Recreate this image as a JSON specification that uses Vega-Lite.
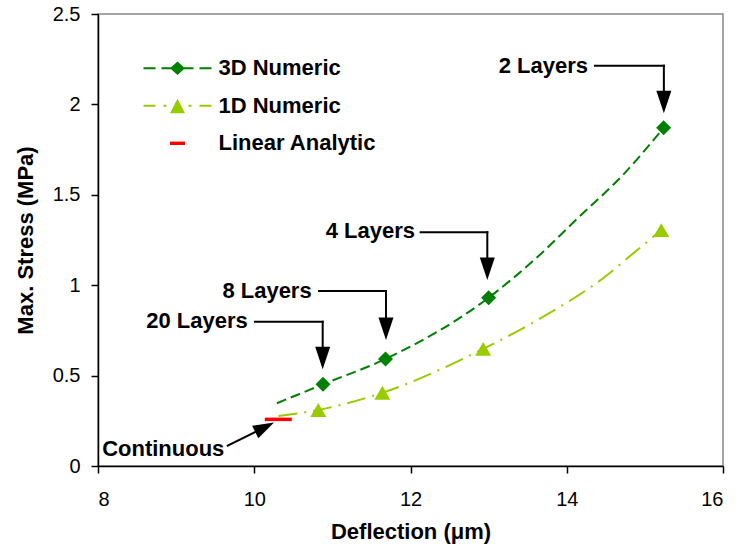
{
  "$schema": "https://vega.github.io/schema/vega-lite/v6.json",
  "width": 625,
  "height": 452,
  "autosize": {"type": "none"},
  "padding": {"left": 98, "top": 14, "right": 21, "bottom": 79},
  "background": "white",
  "config": {
    "view": {"stroke": "#888888", "strokeWidth": 1.5},
    "axis": {
      "domainColor": "black", "domainWidth": 1.5,
      "tickColor": "black", "tickWidth": 1.5, "tickSize": 7,
      "labelFont": "Liberation Sans", "labelFontSize": 20, "labelColor": "black",
      "titleFont": "Liberation Sans", "titleFontSize": 22, "titleFontWeight": "bold", "titleColor": "black",
      "grid": false
    },
    "legend": {
      "orient": "none", "legendX": 45.5, "legendY": 43.3, "padding": 0,
      "symbolSize": 484, "symbolStrokeWidth": 0, "labelOffset": 53, "rowPadding": 15.5,
      "labelFont": "Liberation Sans", "labelFontSize": 22, "labelFontWeight": "bold",
      "labelColor": "black", "labelLimit": 300
    }
  },
  "datasets": {
    "curves": [
      {"series": "3D Numeric", "x": 10.29, "y": 0.347},
      {"series": "3D Numeric", "x": 10.88, "y": 0.452},
      {"series": "3D Numeric", "x": 11.68, "y": 0.592},
      {"series": "3D Numeric", "x": 13.0, "y": 0.931},
      {"series": "3D Numeric", "x": 13.66, "y": 1.17},
      {"series": "3D Numeric", "x": 14.15, "y": 1.375},
      {"series": "3D Numeric", "x": 14.72, "y": 1.61},
      {"series": "3D Numeric", "x": 15.24, "y": 1.871},
      {"series": "1D Numeric", "x": 10.31, "y": 0.277},
      {"series": "1D Numeric", "x": 10.82, "y": 0.31},
      {"series": "1D Numeric", "x": 11.64, "y": 0.405},
      {"series": "1D Numeric", "x": 12.93, "y": 0.648},
      {"series": "1D Numeric", "x": 13.7, "y": 0.826},
      {"series": "1D Numeric", "x": 14.49, "y": 1.047},
      {"series": "1D Numeric", "x": 14.85, "y": 1.176},
      {"series": "1D Numeric", "x": 15.21, "y": 1.305}
    ],
    "markers": [
      {"series": "3D Numeric", "x": 10.88, "y": 0.452},
      {"series": "3D Numeric", "x": 11.68, "y": 0.592},
      {"series": "3D Numeric", "x": 13.0, "y": 0.931},
      {"series": "3D Numeric", "x": 15.24, "y": 1.871},
      {"series": "1D Numeric", "x": 10.82, "y": 0.31},
      {"series": "1D Numeric", "x": 11.64, "y": 0.405},
      {"series": "1D Numeric", "x": 12.93, "y": 0.648},
      {"series": "1D Numeric", "x": 15.21, "y": 1.305}
    ],
    "analytic": [
      {"series": "Linear Analytic", "x": 10.308, "y": 0.258}
    ],
    "segments": [
      {"x": 14.362, "y": 2.214, "x2": 15.243, "y2": 2.214},
      {"x": 15.243, "y": 2.214, "x2": 15.243, "y2": 1.98},
      {"x": 12.13, "y": 1.293, "x2": 12.983, "y2": 1.293},
      {"x": 12.983, "y": 1.293, "x2": 12.983, "y2": 1.06},
      {"x": 10.829, "y": 0.968, "x2": 11.686, "y2": 0.968},
      {"x": 11.686, "y": 0.968, "x2": 11.686, "y2": 0.73},
      {"x": 10.01, "y": 0.798, "x2": 10.876, "y2": 0.798},
      {"x": 10.876, "y": 0.798, "x2": 10.876, "y2": 0.56},
      {"x": 9.66, "y": 0.112, "x2": 10.164, "y2": 0.221}
    ],
    "heads": [
      {"x": 15.243, "y": 1.951},
      {"x": 12.983, "y": 1.029},
      {"x": 11.686, "y": 0.697},
      {"x": 10.876, "y": 0.535}
    ],
    "contHead": [
      {"x": 10.253, "y": 0.24}
    ],
    "labels": [
      {"label": "2 Layers", "x": 14.272, "y": 2.21},
      {"label": "4 Layers", "x": 12.058, "y": 1.3},
      {"label": "8 Layers", "x": 10.735, "y": 0.97},
      {"label": "20 Layers", "x": 9.916, "y": 0.804},
      {"label": "Continuous", "x": 9.617, "y": 0.094}
    ]
  },
  "encoding": {
    "x": {
      "field": "x", "type": "quantitative",
      "scale": {"domain": [8, 16], "nice": false, "zero": false},
      "axis": {"title": "Deflection (μm)", "values": [8, 10, 12, 14, 16], "labelPadding": 16, "titleBaseline": "alphabetic", "titleY": 72}
    },
    "y": {
      "field": "y", "type": "quantitative",
      "scale": {"domain": [0, 2.5], "nice": false},
      "axis": {"title": "Max. Stress (MPa)", "values": [0, 0.5, 1, 1.5, 2, 2.5], "format": "~g", "labelPadding": 11, "titleBaseline": "alphabetic", "titleX": -66, "titleY": 226}
    }
  },
  "layer": [
    {
      "data": {"name": "curves"},
      "transform": [{"filter": "datum.series === '3D Numeric'"}],
      "mark": {"type": "line", "strokeDash": [10, 5], "strokeWidth": 2, "interpolate": "monotone"},
      "encoding": {
        "color": {
          "field": "series", "type": "nominal",
          "scale": {"domain": ["3D Numeric", "1D Numeric", "Linear Analytic"], "range": ["#008000", "#99cc00", "#ff0000"]},
          "legend": {
            "title": null,
            "encode": {
              "symbols": {
                "update": {
                  "shape": {"signal": "datum.value === '3D Numeric' ? 'M-1,-0.091L0.091,-0.091L0.091,0.091L-1,0.091Z M0.636,-0.091L1.591,-0.091L1.591,0.091L0.636,0.091Z M2.591,-0.091L3.545,-0.091L3.545,0.091L2.591,0.091Z M4.091,-0.091L5.182,-0.091L5.182,0.091L4.091,0.091Z M1.409,0L2.091,-0.618L2.773,0L2.091,0.618Z' : datum.value === '1D Numeric' ? 'M-1,-0.091L0.091,-0.091L0.091,0.091L-1,0.091Z M0.818,-0.091L1.091,-0.091L1.091,0.091L0.818,0.091Z M3.091,-0.091L3.364,-0.091L3.364,0.091L3.091,0.091Z M4.091,-0.091L5.182,-0.091L5.182,0.091L4.091,0.091Z M2.091,-0.636L2.773,0.682L1.409,0.682Z' : 'M1.409,-0.155L2.773,-0.155L2.773,0.155L1.409,0.155Z'"},
                  "fill": {"signal": "datum.value === '3D Numeric' ? '#008000' : datum.value === '1D Numeric' ? '#99cc00' : '#ff0000'"},
                  "stroke": {"value": "transparent"},
                  "size": {"value": 484},
                  "opacity": {"value": 1}
                }
              }
            }
          }
        }
      }
    },
    {
      "data": {"name": "curves"},
      "transform": [{"filter": "datum.series === '1D Numeric'"}],
      "mark": {"type": "line", "strokeDash": [19, 7, 2, 7], "strokeWidth": 2, "interpolate": "monotone"},
      "encoding": {"color": {"field": "series", "type": "nominal"}}
    },
    {
      "data": {"name": "analytic"},
      "mark": {"type": "tick", "orient": "horizontal", "size": 27, "thickness": 3.5, "opacity": 1},
      "encoding": {"color": {"field": "series", "type": "nominal"}}
    },
    {
      "data": {"name": "markers"},
      "transform": [{"filter": "datum.series === '3D Numeric'"}],
      "mark": {"type": "point", "shape": "diamond", "filled": true, "size": 225, "opacity": 1},
      "encoding": {"color": {"field": "series", "type": "nominal"}}
    },
    {
      "data": {"name": "markers"},
      "transform": [{"filter": "datum.series === '1D Numeric'"}],
      "mark": {"type": "point", "shape": "triangle-up", "filled": true, "size": 256, "opacity": 1},
      "encoding": {"color": {"field": "series", "type": "nominal"}}
    },
    {
      "data": {"name": "segments"},
      "mark": {"type": "rule", "color": "black", "strokeWidth": 2, "strokeCap": "square"},
      "encoding": {
        "x2": {"field": "x2"},
        "y2": {"field": "y2"}
      }
    },
    {
      "data": {"name": "heads"},
      "mark": {"type": "point", "shape": "M0,0L-1,-3L1,-3Z", "filled": true, "color": "black", "size": 225, "opacity": 1, "strokeWidth": 0}
    },
    {
      "data": {"name": "contHead"},
      "mark": {"type": "point", "shape": "M0,0L-1,-3L1,-3Z", "filled": true, "color": "black", "size": 196, "opacity": 1, "strokeWidth": 0, "angle": 243.6}
    },
    {
      "data": {"name": "labels"},
      "mark": {"type": "text", "align": "right", "baseline": "middle", "font": "Liberation Sans", "fontSize": 22, "fontWeight": "bold", "color": "black"},
      "encoding": {"text": {"field": "label"}}
    }
  ]
}
